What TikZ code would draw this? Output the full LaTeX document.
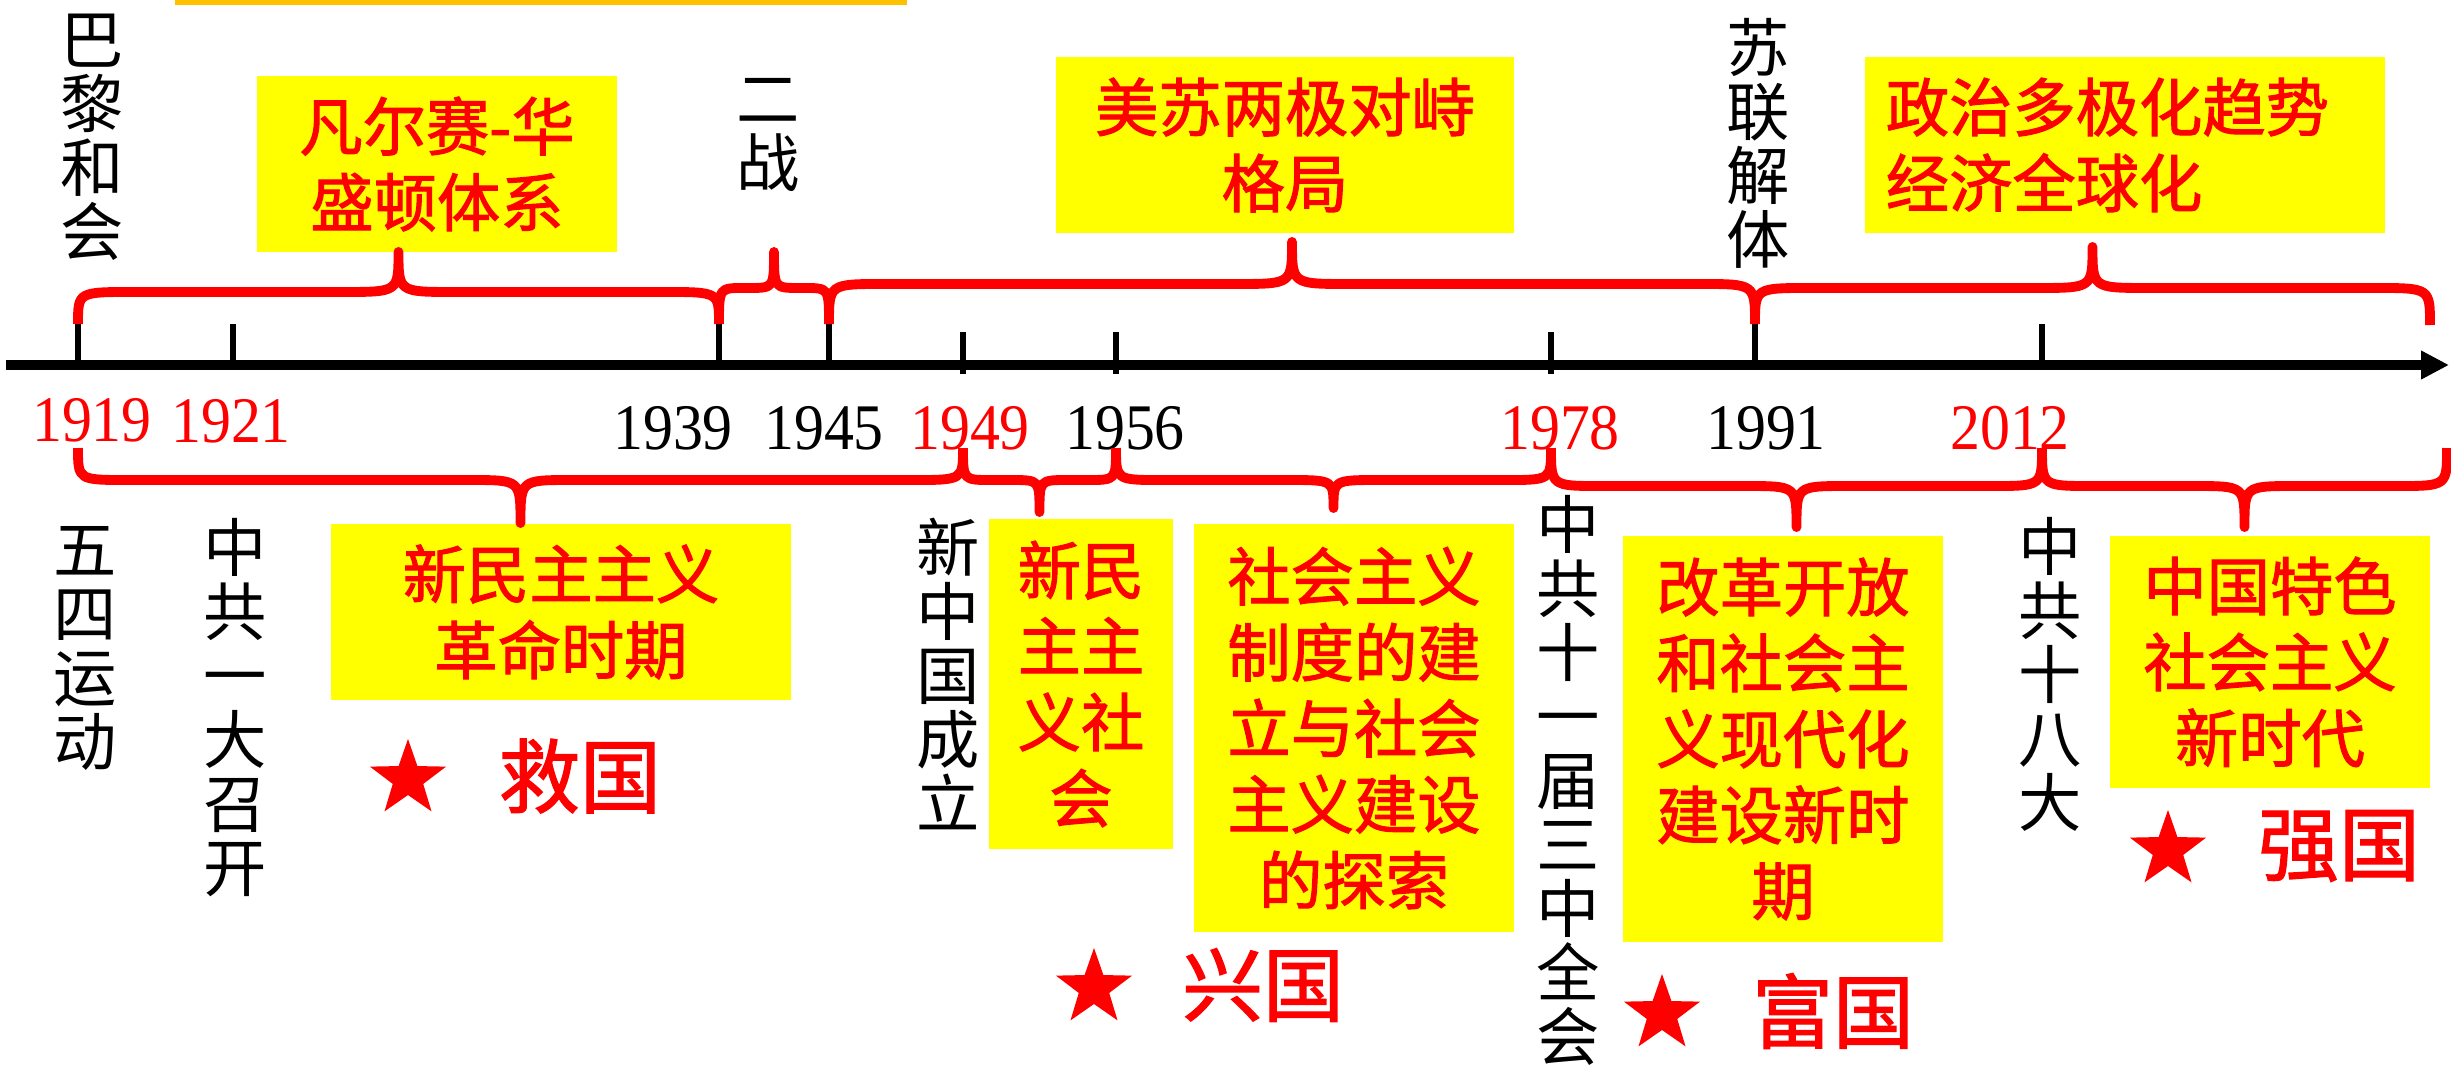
\documentclass[tikz,border=0pt]{standalone}
\usepackage{fontspec}
\setmainfont{Liberation Serif}
\newfontfamily\cjk{Noto Sans CJK SC}
\newfontfamily\cjkred[FakeBold=1.6]{Noto Sans CJK SC}
\newfontfamily\yrfont[FakeStretch=0.92]{Liberation Serif}
\usetikzlibrary{arrows.meta, positioning, calc, shapes.geometric}
\definecolor{tlred}{RGB}{255, 0, 0}
\definecolor{tlyellow}{RGB}{255, 255, 0}
\definecolor{tlorange}{RGB}{255, 192, 0}

% curly brace between two named points: #3 rise of the bar, #4 rise of the tip, #5 run of the bends
\newcommand\tlbrace[5]{%
  \draw[brc] let \p1=(#1), \p2=(#2), \p3=($(#1)!0.5!(#2)$) in
    (\p1) .. controls (\x1,{\y1+(#3)}) .. ({\x1+#5},{\y1+(#3)})
    -- ({\x3-#5},{\y1+(#3)}) .. controls (\x3,{\y1+(#3)}) .. (\x3,{\y1+(#4)})
    .. controls (\x3,{\y1+(#3)}) .. ({\x3+#5},{\y1+(#3)})
    -- ({\x2-#5},{\y1+(#3)}) .. controls (\x2,{\y1+(#3)}) .. (\p2);%
}

\begin{document}
\begin{tikzpicture}[x=0.01cm, y=-0.01cm,
  axisline/.style={line width=2.6pt, -{Triangle[length=0.28cm, width=0.27cm]}},
  tick/.style={line width=1.5pt},
  brc/.style={tlred, line width=2.8pt, line join=round},
  yr/.style={font=\yrfont\fontsize{18.5}{18.5}\selectfont, inner sep=0pt},
  vlab/.style={font=\cjk\fontsize{18}{18.2}\selectfont, align=center, inner sep=0pt},
  era/.style={fill=tlyellow, text=tlred, font=\cjkred\fontsize{18}{21.6}\selectfont, align=center, inner sep=0pt},
  goal/.style={star, star points=5, star point ratio=2.5, fill=tlred, minimum size=0.8cm, inner sep=0pt},
  goaltxt/.style={text=tlred, font=\cjkred\fontsize{23}{23}\selectfont, inner sep=0pt},
]
  \useasboundingbox (0,0) rectangle (2451,1070);
  \fill[tlorange] (175,0) rectangle (907,5);

  % time axis and ticks
  \draw[axisline] (6,365) -- (2449,365);
  \foreach \yr/\xx in {1919/78, 1921/233, 1939/719, 1945/829, 1949/963, 1956/1116, 1978/1551, 1991/1755, 2012/2042}
    \coordinate (a\yr) at (\xx,365);
  \foreach \yr in {1919,1921,1939,1945,1991,2012}
    \draw[tick] (a\yr) -- ++(0,-41) coordinate (k\yr);
  \foreach \yr in {1949,1956,1978}
    \draw[tick] ($(a\yr)+(0,9)$) -- ++(0,-42) coordinate (k\yr);
  \coordinate (kend) at (2430,325);
  \foreach \yr in {1919,1949,1956,1978,2012}
    \coordinate (b\yr) at ($(a\yr)+(0,83)$);
  \coordinate (bend) at (2447,448);

  % years
  \foreach \yr/\xx/\yy/\cc in {1919/92/420/tlred, 1921/231/421/tlred, 1939/673/428/black, 1945/824/428/black, 1949/970/428/tlred, 1956/1125/428/black, 1978/1560/428/tlred, 1991/1766/428/black, 2012/2010/428/tlred}
    \node[yr, text=\cc] (n\yr) at (\xx,\yy) {\yr};

  % world events (top)
  \node[vlab] (bali) at (92,137) {巴\\黎\\和\\会};
  \node[vlab] (erzhan) at (768,135) {二\\战};
  \node[vlab] (sulian) at (1758,143) {苏\\联\\解\\体};
  \node[era, minimum width=3.59cm, minimum height=1.75cm] (vw) at (437,164) {凡尔赛-华\\盛顿体系};
  \node[era, minimum width=4.58cm, minimum height=1.75cm] (lengz) at (1285,145) {美苏两极对峙\\格局};
  \node[era, align=left, text width=4.78cm, inner xsep=0.21cm, minimum height=1.75cm] (duoji) at (2125,145) {政治多极化趋势\\经济全球化};

  % China (bottom)
  \node[vlab] (wusi) at (85,648) {五\\四\\运\\动};
  \node[vlab] (yida) at (235,708) {中\\共\\一\\大\\召\\开};
  \node[vlab] (jianguo) at (948,674) {新\\中\\国\\成\\立};
  \node[vlab] (sanzh) at (1568,780) {中\\共\\十\\一\\届\\三\\中\\全\\会};
  \node[vlab] (shiba) at (2050,674) {中\\共\\十\\八\\大};
  \node[era, minimum width=4.59cm, minimum height=1.75cm] (xmz) at (561,612) {新民主主义\\革命时期};
  \node[era, minimum width=1.83cm, minimum height=3.3cm] (xmzsh) at (1081,684) {新民\\主主\\义社\\会};
  \node[era, minimum width=3.19cm, minimum height=4.07cm] (shzy) at (1354,728) {社会主义\\制度的建\\立与社会\\主义建设\\的探索};
  \node[era, minimum width=3.19cm, minimum height=4.06cm] (ggkf) at (1783,739) {改革开放\\和社会主\\义现代化\\建设新时\\期};
  \node[era, minimum width=3.19cm, minimum height=2.52cm] (xsd) at (2270,662) {中国特色\\社会主义\\新时代};

  \node[goal] (s1) at (408,779) {};
  \node[goaltxt] (g1) at (580,776) {救国};
  \node[goal] (s2) at (1094,988) {};
  \node[goaltxt] (g2) at (1263,985) {兴国};
  \node[goal] (s3) at (1662,1014) {};
  \node[goaltxt] (g3) at (1833,1011) {富国};
  \node[goal] (s4) at (2168,850) {};
  \node[goaltxt] (g4) at (2339,846) {强国};

  % braces
  \tlbrace{k1919}{k1939}{0.32cm}{0.72cm}{0.55cm}
  \tlbrace{k1939}{k1945}{0.36cm}{0.72cm}{0.25cm}
  \tlbrace{k1945}{k1991}{0.4cm}{0.82cm}{0.55cm}
  \tlbrace{k1991}{kend}{0.36cm}{0.77cm}{0.55cm}
  \tlbrace{b1919}{b1949}{-0.32cm}{-0.75cm}{0.5cm}
  \tlbrace{b1949}{b1956}{-0.32cm}{-0.64cm}{0.28cm}
  \tlbrace{b1956}{b1978}{-0.32cm}{-0.6cm}{0.45cm}
  \tlbrace{b1978}{b2012}{-0.38cm}{-0.79cm}{0.5cm}
  \tlbrace{b2012}{bend}{-0.38cm}{-0.79cm}{0.5cm}
\end{tikzpicture}
\end{document}
